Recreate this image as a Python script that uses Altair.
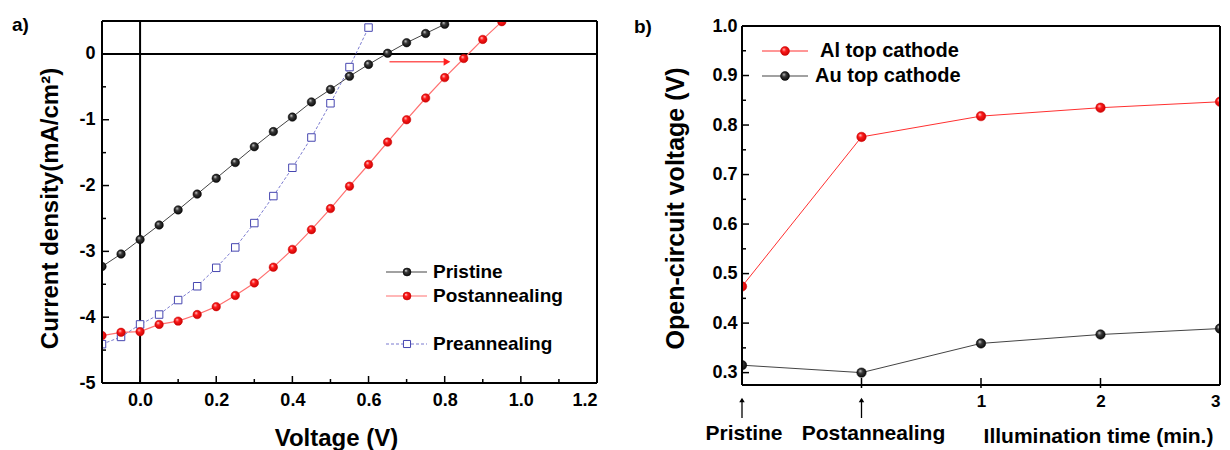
import altair as alt
import pandas as pd

FONT = "Liberation Sans"

# ---------------- Panel a data (J-V curves) ----------------
volt_pristine = [-0.1, -0.05, 0.0, 0.05, 0.1, 0.15, 0.2, 0.25, 0.3, 0.35, 0.4,
                 0.45, 0.5, 0.55, 0.6, 0.65, 0.7, 0.75, 0.8]
j_pristine = [-3.23, -3.04, -2.82, -2.60, -2.37, -2.13, -1.89, -1.65, -1.41, -1.18,
              -0.96, -0.73, -0.54, -0.34, -0.16, 0.01, 0.17, 0.31, 0.45]
volt_post = [-0.1, -0.05, 0.0, 0.05, 0.1, 0.15, 0.2, 0.25, 0.3, 0.35, 0.4,
             0.45, 0.5, 0.55, 0.6, 0.65, 0.7, 0.75, 0.8, 0.85, 0.9, 0.95]
j_post = [-4.28, -4.23, -4.22, -4.11, -4.06, -3.96, -3.84, -3.67, -3.48, -3.24,
          -2.97, -2.67, -2.35, -2.01, -1.68, -1.34, -1.00, -0.67, -0.36, -0.07,
          0.22, 0.49]
volt_pre = [-0.1, -0.05, 0.0, 0.05, 0.1, 0.15, 0.2, 0.25, 0.3, 0.35, 0.4,
            0.45, 0.5, 0.55, 0.6]
j_pre = [-4.41, -4.30, -4.11, -3.96, -3.74, -3.53, -3.25, -2.94, -2.57, -2.16,
         -1.73, -1.27, -0.75, -0.20, 0.40]
arrow_x = [0.655, 0.818]
arrow_y = [-0.12]
xa_major = [0.0, 0.2, 0.4, 0.6, 0.8, 1.0, 1.2]
xa_minor = [0.1, 0.3, 0.5, 0.7, 0.9, 1.1]
ya_major = [-5, -4, -3, -2, -1, 0]
ya_minor = [-4.5, -3.5, -2.5, -1.5, -0.5]
xa_range = [-0.1, 1.2]
ya_range = [-5, 0.5]

# ---------------- Panel b data (Voc) ----------------
stage_pos = [-1, 0, 1, 2, 3]
voc_al = [0.474, 0.776, 0.818, 0.835, 0.847]
voc_au = [0.315, 0.300, 0.359, 0.377, 0.389]
stage_names = ["Pristine", "Postannealing"]
stage_name_pos = [-1, 0]
xb_labels = [1, 2, 3]
xb_ticks = [0, 1, 2]
yb_major = [0.3, 0.4, 0.5, 0.6, 0.7, 0.8, 0.9, 1.0]
yb_minor = [0.35, 0.45, 0.55, 0.65, 0.75, 0.85, 0.95]
xb_range = [-1, 3]
yb_frame = [0.275, 1.0]

WA, HA = 495, 362
WB, HB = 478, 364
# panel b frame top (1.0) sits 5 px below the shared panel top
YB_TOP = yb_frame[1] + 5 * (yb_frame[1] - yb_frame[0]) / (HB - 5)

BLACK_BALL = {"gradient": "radial", "x1": 0.35, "y1": 0.3, "r1": 0.0,
              "x2": 0.5, "y2": 0.5, "r2": 0.6,
              "stops": [{"offset": 0, "color": "#e0e0e0"},
                        {"offset": 0.35, "color": "#3a3a3a"},
                        {"offset": 1, "color": "#000000"}]}
RED_BALL = {"gradient": "radial", "x1": 0.35, "y1": 0.3, "r1": 0.0,
            "x2": 0.5, "y2": 0.5, "r2": 0.6,
            "stops": [{"offset": 0, "color": "#ffe0e0"},
                      {"offset": 0.35, "color": "#ff1a1a"},
                      {"offset": 1, "color": "#c00000"}]}

axis_style = dict(labelFont=FONT, labelFontWeight="bold", labelColor="black",
                  titleFont=FONT, titleFontWeight="bold", titleColor="black",
                  ticks=False, domain=False, grid=False)

# ================= Panel a =================
df_a = pd.concat([
    pd.DataFrame({"x": volt_pristine, "y": j_pristine, "series": "Pristine"}),
    pd.DataFrame({"x": volt_post, "y": j_post, "series": "Postannealing"}),
    pd.DataFrame({"x": volt_pre, "y": j_pre, "series": "Preannealing"}),
], ignore_index=True)

xa_scale = alt.Scale(domain=xa_range, nice=False, zero=False)
ya_scale = alt.Scale(domain=ya_range, nice=False, zero=False)
xa_axis = alt.Axis(values=xa_major, format=".1f", labelFontSize=18, labelPadding=8,
                   title="Voltage (V)", titleFontSize=24, titleX=234, titleY=55,
                   titleBaseline="middle", **axis_style)
ya_axis = alt.Axis(values=ya_major, labelExpr="toString(datum.value)", labelFontSize=18,
                   labelPadding=7, title="Current density(mA/cm²)", titleFontSize=24,
                   titleX=-52, titleY=187, titleBaseline="middle", **axis_style)


def XA(field="x"):
    return alt.X(f"{field}:Q", scale=xa_scale, axis=xa_axis)


def YA(field="y"):
    return alt.Y(f"{field}:Q", scale=ya_scale, axis=ya_axis)


def rule(df, **enc):
    return alt.Chart(df).mark_rule(color="black", strokeWidth=2).encode(**enc)


base_a = alt.Chart(df_a)
frame_a = [
    rule(pd.DataFrame({"x": xa_range}), x=XA()),
    rule(pd.DataFrame({"y": ya_range}), y=YA()),
]
zero_v = rule(pd.DataFrame({"x": [0.0]}), x=XA())
zero_h = rule(pd.DataFrame({"y": [0.0]}), y=YA())

pr_line = base_a.transform_filter(alt.datum.series == "Pristine").mark_line(
    color="#444444", strokeWidth=1, clip=True).encode(x=XA(), y=YA())
pr_pts = base_a.transform_filter(alt.datum.series == "Pristine").mark_point(
    shape="circle", filled=True, fill=BLACK_BALL, stroke="#000", strokeWidth=0.5,
    size=72, opacity=1, clip=True).encode(x=XA(), y=YA())
po_line = base_a.transform_filter(alt.datum.series == "Postannealing").mark_line(
    color="#ff7070", strokeWidth=1.2, clip=True).encode(x=XA(), y=YA())
po_pts = base_a.transform_filter(alt.datum.series == "Postannealing").mark_point(
    shape="circle", filled=True, fill=RED_BALL, stroke="#d00000", strokeWidth=0.5,
    size=72, opacity=1, clip=True).encode(x=XA(), y=YA())
pe_line = base_a.transform_filter(alt.datum.series == "Preannealing").mark_line(
    color="#7b7bd0", strokeWidth=1, strokeDash=[3, 2], clip=True).encode(x=XA(), y=YA())
pe_pts = base_a.transform_filter(alt.datum.series == "Preannealing").mark_point(
    shape="square", filled=False, fill="white", stroke="#4646b0", strokeWidth=1,
    size=56, opacity=1, clip=True).encode(x=XA(), y=YA())

arrow_df = pd.DataFrame({"x": [arrow_x[0]], "x2": [arrow_x[1] - 0.02], "y": arrow_y})
arrow_line = alt.Chart(arrow_df).mark_rule(color="#ff5a5a", strokeWidth=1.5).encode(
    x=XA(), x2="x2:Q", y=YA())
arrow_head = alt.Chart(pd.DataFrame({"x": [arrow_x[1] - 0.012], "y": arrow_y})).mark_point(
    shape="triangle-right", filled=True, color="#ff2020", size=60, opacity=1).encode(x=XA(), y=YA())

ta_xmaj = alt.Chart(pd.DataFrame({"x": xa_major})).mark_rule(color="black", strokeWidth=1.5).encode(
    x=XA(), y=alt.value(HA), y2=alt.value(HA - 7))
ta_xmin = alt.Chart(pd.DataFrame({"x": xa_minor})).mark_rule(color="black", strokeWidth=1.5).encode(
    x=XA(), y=alt.value(HA), y2=alt.value(HA - 4))
ta_ymaj = alt.Chart(pd.DataFrame({"y": ya_major})).mark_rule(color="black", strokeWidth=1.5).encode(
    y=YA(), x=alt.value(0), x2=alt.value(7))
ta_ymin = alt.Chart(pd.DataFrame({"y": ya_minor})).mark_rule(color="black", strokeWidth=1.5).encode(
    y=YA(), x=alt.value(0), x2=alt.value(4))


def legend_entry(label, ypx, line_color, line_dash, marker, x0, x1, xm, xt, size, fs):
    d = pd.DataFrame({"label": [label]})
    line_kw = dict(color=line_color, strokeWidth=1.2)
    if line_dash:
        line_kw["strokeDash"] = line_dash
    ln = alt.Chart(d).mark_rule(**line_kw).encode(
        x=alt.value(x0), x2=alt.value(x1), y=alt.value(ypx))
    if marker == "black":
        mk = alt.Chart(d).mark_point(shape="circle", filled=True, fill=BLACK_BALL, stroke="#000",
                                     strokeWidth=0.5, size=size, opacity=1)
    elif marker == "red":
        mk = alt.Chart(d).mark_point(shape="circle", filled=True, fill=RED_BALL, stroke="#d00000",
                                     strokeWidth=0.5, size=size, opacity=1)
    else:
        mk = alt.Chart(d).mark_point(shape="square", filled=False, fill="white", stroke="#4646b0",
                                     strokeWidth=1, size=size, opacity=1)
    mk = mk.encode(x=alt.value(xm), y=alt.value(ypx))
    tx = alt.Chart(d).mark_text(align="left", baseline="middle", font=FONT, fontWeight="bold",
                                fontSize=fs, color="black").encode(
        x=alt.value(xt), y=alt.value(ypx), text="label:N")
    return [ln, mk, tx]


leg_a = []
leg_a += legend_entry("Pristine", 251, "#444444", None, "black", 284, 325, 305, 331, 64, 19)
leg_a += legend_entry("Postannealing", 275, "#ff7070", None, "red", 284, 325, 305, 331, 64, 19)
leg_a += legend_entry("Preannealing", 323, "#7b7bd0", [3, 2], "square", 284, 325, 305, 331, 50, 19)

lab_a = alt.Chart(pd.DataFrame({"t": ["a)"]})).mark_text(
    align="left", baseline="alphabetic", font=FONT, fontWeight="bold", fontSize=19, color="black"
).encode(x=alt.value(-90), y=alt.value(10), text="t:N")

panel_a = alt.layer(
    zero_v, zero_h, pr_line, po_line, pe_line, pe_pts, pr_pts, po_pts,
    arrow_line, arrow_head, ta_xmaj, ta_xmin, ta_ymaj, ta_ymin, *frame_a, *leg_a, lab_a
).properties(width=WA, height=HA)

# ================= Panel b =================
df_b = pd.concat([
    pd.DataFrame({"x": stage_pos, "y": voc_al, "series": "Al top cathode"}),
    pd.DataFrame({"x": stage_pos, "y": voc_au, "series": "Au top cathode"}),
], ignore_index=True)

xb_scale = alt.Scale(domain=xb_range, nice=False, zero=False)
yb_scale = alt.Scale(domain=[yb_frame[0], YB_TOP], nice=False, zero=False)
xb_axis = alt.Axis(values=xb_labels, format="d", labelFontSize=17, labelPadding=8,
                   labelFlush=True,
                   title="Illumination time (min.)", titleFontSize=21, titleX=356, titleY=51,
                   titleBaseline="middle", **axis_style)
yb_axis = alt.Axis(values=yb_major, format=".1f", labelFontSize=18, labelPadding=5,
                   title="Open-circuit voltage (V)", titleFontSize=25, titleX=-67, titleY=187,
                   titleBaseline="middle", **axis_style)


def XB(field="x"):
    return alt.X(f"{field}:Q", scale=xb_scale, axis=xb_axis)


def YB(field="y"):
    return alt.Y(f"{field}:Q", scale=yb_scale, axis=yb_axis)


base_b = alt.Chart(df_b)
frame_df_v = pd.DataFrame({"x": xb_range, "y": [yb_frame[0]] * 2, "y2": [yb_frame[1]] * 2})
frame_b = [
    rule(pd.DataFrame({"y": yb_frame}), y=YB()),
    rule(frame_df_v, x=XB(), y=YB(), y2="y2:Q"),
]
al_line = base_b.transform_filter(alt.datum.series == "Al top cathode").mark_line(
    color="#ff3030", strokeWidth=1, clip=True).encode(x=XB(), y=YB())
al_pts = base_b.transform_filter(alt.datum.series == "Al top cathode").mark_point(
    shape="circle", filled=True, fill=RED_BALL, stroke="#d00000", strokeWidth=0.5,
    size=90, opacity=1, clip=True).encode(x=XB(), y=YB())
au_line = base_b.transform_filter(alt.datum.series == "Au top cathode").mark_line(
    color="#444444", strokeWidth=1, clip=True).encode(x=XB(), y=YB())
au_pts = base_b.transform_filter(alt.datum.series == "Au top cathode").mark_point(
    shape="circle", filled=True, fill=BLACK_BALL, stroke="#000", strokeWidth=0.5,
    size=90, opacity=1, clip=True).encode(x=XB(), y=YB())

tb_x = alt.Chart(pd.DataFrame({"x": xb_ticks})).mark_rule(color="black", strokeWidth=1.5).encode(
    x=XB(), y=alt.value(HB - 7), y2=alt.value(HB + 3))
tb_ymaj = alt.Chart(pd.DataFrame({"y": yb_major})).mark_rule(color="black", strokeWidth=1.5).encode(
    y=YB(), x=alt.value(0), x2=alt.value(7))
tb_ymin = alt.Chart(pd.DataFrame({"y": yb_minor})).mark_rule(color="black", strokeWidth=1.5).encode(
    y=YB(), x=alt.value(0), x2=alt.value(4))

stage_df = pd.DataFrame({"x": stage_name_pos, "name": stage_names})
up_arrow = alt.Chart(stage_df).mark_rule(color="black", strokeWidth=1.3).encode(
    x=XB(), y=alt.value(HB + 33), y2=alt.value(HB + 14))
up_head = alt.Chart(stage_df).mark_point(shape="triangle-up", filled=True, color="black",
                                         size=30, opacity=1).encode(x=XB(), y=alt.value(HB + 15))
st_txt1 = alt.Chart(stage_df).transform_filter(alt.datum.name == "Pristine").mark_text(
    align="center", baseline="middle", font=FONT, fontWeight="bold", fontSize=21, color="black", dx=2
).encode(x=XB(), y=alt.value(HB + 49), text="name:N")
st_txt2 = alt.Chart(stage_df).transform_filter(alt.datum.name == "Postannealing").mark_text(
    align="center", baseline="middle", font=FONT, fontWeight="bold", fontSize=21, color="black", dx=12
).encode(x=XB(), y=alt.value(HB + 49), text="name:N")

leg_b = []
leg_b += legend_entry("Al top cathode", 30, "#ff3030", None, "red", 20, 66, 43, 78, 80, 20)
leg_b += legend_entry("Au top cathode", 55, "#444444", None, "black", 20, 66, 43, 73, 80, 20)

lab_b = alt.Chart(pd.DataFrame({"t": ["b)"]})).mark_text(
    align="left", baseline="alphabetic", font=FONT, fontWeight="bold", fontSize=19, color="black"
).encode(x=alt.value(-108), y=alt.value(12), text="t:N")

panel_b = alt.layer(
    al_line, au_line, al_pts, au_pts, tb_x, tb_ymaj, tb_ymin, *frame_b,
    up_arrow, up_head, st_txt1, st_txt2, *leg_b, lab_b
).properties(width=WB, height=HB)

chart = alt.hconcat(panel_a, panel_b, spacing=145, bounds="flush").properties(
    padding={"left": 4, "top": 8, "right": 0, "bottom": 0}
).configure_view(strokeWidth=0)

chart.save("out.html", embed_options={"renderer": "svg", "actions": False})
